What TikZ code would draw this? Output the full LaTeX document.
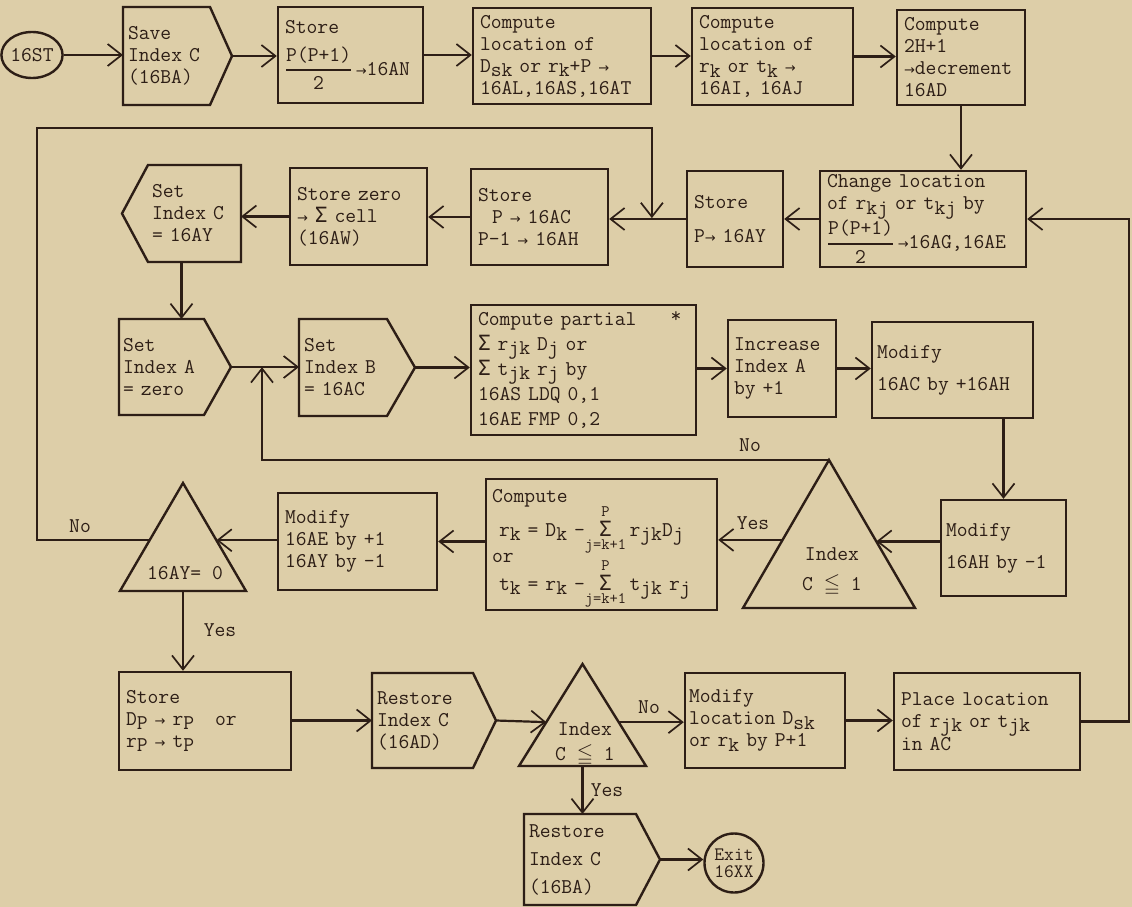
\documentclass[tikz,border=0pt]{standalone}
\usepackage{fontspec}
\usepackage{amssymb}
\usetikzlibrary{arrows.meta,calc,shapes.geometric}
\newfontfamily\symm{DejaVu Sans Mono}
\newfontfamily\symf{DejaVu Sans}
\definecolor{paper}{RGB}{221,206,168}
\definecolor{ink}{RGB}{45,30,22}
\newcommand\myfont{\fontsize{21}{22}\selectfont\ttfamily}
\newcommand\sbx[1]{\raisebox{-0.5ex}{#1}}
\newcommand\myar{{\symf\fontsize{13}{13}\selectfont →}}
\newcommand\mysig{{\symm Σ}}
\newcommand\myfrac{\(\displaystyle{\hbox{\ttfamily P(P+1)}\above1.8pt\hbox{\ttfamily 2}}\)}
\newcommand\mysum{\smash{\(\mathop{\hbox{\symm Σ}}\limits^{\hbox{\fontsize{16}{16}\selectfont\ttfamily P}}_{\hbox{\fontsize{16}{16}\selectfont\ttfamily j=k+1}}\)}}
\begin{document}
\begin{tikzpicture}[x=1pt,y=-1pt]
\tikzset{
 bx/.style={draw=ink, line width=2.4pt, inner xsep=7pt, inner ysep=0pt, align=left, font=\myfont, text=ink},
 ghost/.style={draw=none, inner xsep=5pt, inner ysep=0pt, outer sep=0pt, align=left, font=\myfont, text=ink},
 shp/.style={draw=ink, line width=2.4pt, line join=miter},
 con/.style={draw=ink, line width=2.2pt, -{Straight Barb[length=14pt,width=22pt,line width=1.7pt]}},
 lab/.style={font=\myfont, text=ink, inner sep=0pt},
 circ/.style={draw=ink, line width=2.4pt, inner sep=0pt, font=\myfont, text=ink, align=center},
}
\useasboundingbox (0,0) rectangle (1132,907);
\fill[paper] (0,0) rectangle (1132,907);

% ---- row 1
\node[circ, ellipse, minimum width=60pt, minimum height=46pt] (st) at (32,55) {16ST};
\node[ghost, minimum width=87pt, minimum height=98pt, text width=77pt] (save) at (166.5,56) {Save\\Index C\\(16BA)};
\coordinate (saveT) at ($(save.east)+(22,0)$);
\draw[shp] (save.north west) -- (save.north east) -- (saveT) -- (save.south east) -- (save.south west) -- cycle;
\node[bx, minimum width=145pt, minimum height=96pt, text width=131pt] (store1) at (350.5,55) {Store\\[12pt]\myfrac\,\myar16AN};
\node[bx, minimum width=178pt, minimum height=96pt, text width=164pt] (comp1) at (562,56) {Compute\\location of\\D\sbx{sk} or r\sbx{k}+P \myar\\16AL,16AS,16AT};
\node[bx, minimum width=161pt, minimum height=97pt, text width=147pt] (comp2) at (772.5,56.5) {Compute\\location of\\r\sbx{k} or t\sbx{k} \myar\\16AI, 16AJ};
\node[bx, minimum width=128pt, minimum height=95pt, text width=114pt] (comp3) at (961,57.5) {Compute\\2H+1\\\myar decrement\\16AD};

% ---- row 2
\node[bx, minimum width=206pt, minimum height=96pt, text width=192pt] (change) at (923,219) {Change location\\of r\sbx{kj} or t\sbx{kj} by\\\myfrac\,\myar16AG,16AE};
\node[bx, minimum width=96pt, minimum height=96pt, text width=82pt] (storeAY) at (735,219) {Store\\[12pt]P\myar\ 16AY\\[6pt]};
\node[bx, minimum width=137pt, minimum height=96pt, text width=123pt] (storeAC) at (539.5,217) {Store\\\ \ P \myar\ 16AC\\P-1 \myar\ 16AH};
\node[bx, minimum width=137pt, minimum height=97pt, text width=123pt] (storezero) at (358.5,216.5) {Store zero\\\myar\ \mysig\ cell\\(16AW)};
\node[ghost, minimum width=93pt, minimum height=97pt, text width=85pt, inner xsep=4pt] (setC) at (194.5,213.5) {Set\\Index C\\= 16AY};
\coordinate (setCT) at ($(setC.west)+(-26,0)$);
\draw[shp] (setC.north east) -- (setC.north west) -- (setCT) -- (setC.south west) -- (setC.south east) -- cycle;

% ---- row 3
\node[ghost, minimum width=85pt, minimum height=96pt, text width=77pt, inner xsep=4pt] (setA) at (161.5,367) {Set\\Index A\\= zero};
\coordinate (setAT) at ($(setA.east)+(27,0)$);
\draw[shp] (setA.north west) -- (setA.north east) -- (setAT) -- (setA.south east) -- (setA.south west) -- cycle;
\node[ghost, minimum width=88pt, minimum height=97pt, text width=78pt] (setB) at (343,367.5) {Set\\Index B\\= 16AC};
\coordinate (setBT) at ($(setB.east)+(28,0)$);
\draw[shp] (setB.north west) -- (setB.north east) -- (setBT) -- (setB.south east) -- (setB.south west) -- cycle;
\node[bx, minimum width=225pt, minimum height=130pt, text width=211pt, font=\fontsize{21}{25}\selectfont\ttfamily] (partial) at (583.5,370) {Compute partial\\\mysig\ r\sbx{jk} D\sbx{j} or\\\mysig\ t\sbx{jk} r\sbx{j} by\\16AS LDQ 0,1\\16AE FMP 0,2};
\node[bx, minimum width=108pt, minimum height=97pt, text width=96pt, inner xsep=6pt] (incA) at (782,368.5) {Increase\\Index A\\by +1};
\node[bx, minimum width=161pt, minimum height=96pt, text width=151pt, inner xsep=5pt] (modAC) at (952.5,370) {Modify\\[10pt]16AC by +16AH};

% ---- row 4
\node[bx, minimum width=125pt, minimum height=96pt, text width=115pt, inner xsep=5pt] (modAH) at (1003.5,548) {Modify\\[10pt]16AH by -1};
\node[ghost, minimum width=172pt, minimum height=148pt] (tri1) at (829,534) {};
\draw[shp] (tri1.south west) -- (tri1.north) -- (tri1.south east) -- cycle;
\node[lab, align=center] (tri1t) at (832,572) {Index\\[8pt]C $\leqq$ 1};
\node[bx, minimum width=231pt, minimum height=131pt, text width=219pt, inner xsep=6pt] (compR) at (601.5,544.5) {Compute\\[12pt]\ r\sbx{k} = D\sbx{k} -\mysum\,r\sbx{jk}D\sbx{j}\\[4pt]or\\[6pt]\ t\sbx{k} = r\sbx{k} -\mysum\,t\sbx{jk} r\sbx{j}};
\node[bx, minimum width=159pt, minimum height=97pt, text width=145pt] (modAE) at (357.5,541.5) {Modify\\16AE by +1\\16AY by -1};
\node[ghost, minimum width=126pt, minimum height=108pt] (triAY) at (183,537) {};
\draw[shp] (triAY.south west) -- (triAY.north) -- (triAY.south east) -- cycle;
\node[lab] (triAYt) at (185,573) {16AY= 0};

% ---- row 5
\node[bx, minimum width=172pt, minimum height=98pt, text width=158pt] (storeDP) at (205,721) {Store\\D\sbx{P} \myar\ r\sbx{P}\ \ \ or\\r\sbx{P} \myar\ t\sbx{P}};
\node[ghost, minimum width=101pt, minimum height=95pt, text width=91pt] (restoreAD) at (422.5,720.5) {Restore\\Index C\\(16AD)};
\coordinate (rADT) at ($(restoreAD.east)+(23,0)$);
\draw[shp] (restoreAD.north west) -- (restoreAD.north east) -- (rADT) -- (restoreAD.south east) -- (restoreAD.south west) -- cycle;
\node[ghost, minimum width=127pt, minimum height=102pt] (tri2) at (582.5,715) {};
\draw[shp] (tri2.south west) -- (tri2.north) -- (tri2.south east) -- cycle;
\node[lab, align=center] (tri2t) at (585,744) {Index\\[3pt]C $\leqq$ 1};
\node[bx, minimum width=160pt, minimum height=95pt, text width=152pt, inner xsep=4pt] (modloc) at (765,720.5) {Modify\\location D\sbx{sk}\\or r\sbx{k} by P+1};
\node[bx, minimum width=186pt, minimum height=97pt, text width=172pt] (place) at (987,721.5) {Place location\\of r\sbx{jk} or t\sbx{jk}\\in AC};
\node[ghost, minimum width=112pt, minimum height=91pt, text width=102pt] (restoreBA) at (580,859.5) {Restore\\[6pt]Index C\\[6pt](16BA)};
\coordinate (rBAT) at ($(restoreBA.east)+(24,0)$);
\draw[shp] (restoreBA.north west) -- (restoreBA.north east) -- (rBAT) -- (restoreBA.south east) -- (restoreBA.south west) -- cycle;
\node[circ, circle, minimum size=59pt, font=\fontsize{19}{17}\selectfont\ttfamily] (exit) at (734,863) {Exit\\16XX};

% ---- labels
\node[lab] (no1) at (80,526) {No};
\node[lab] (no2) at (750,445) {No};
\node[lab] (yes1) at (753,523) {Yes};
\node[lab] (yes2) at (220,630) {Yes};
\node[lab] (no3) at (649,707) {No};
\node[lab] (yes3) at (607,790) {Yes};
\node[lab] (star) at (676,317) {*};

% ---- helper coordinates
\coordinate (j1) at ($(storeAY.west)!0.443!(storeAC.east)$);
\coordinate (j2) at ($(setAT)!0.456!(setB.west)$);
\coordinate (lt) at (37,128);
\coordinate (rx) at (1129,0);
\coordinate (cA) at ($(setC.south west)!0.36!(setC.south east)$);
\coordinate (t1R) at ($(tri1.south east)!0.45!(tri1.north)$);
\coordinate (t1L) at ($(tri1.south west)!0.46!(tri1.north)$);
\coordinate (tAYR) at ($(triAY.south east)!0.47!(triAY.north)$);
\coordinate (tAYL) at ($(triAY.south west)!0.47!(triAY.north)$);
\coordinate (t2R) at ($(tri2.south east)!0.43!(tri2.north)$);
\coordinate (t2L) at ($(tri2.south west)!0.43!(tri2.north)$);

% ---- connectors
\draw[con] (st.east) -- (st.east -| save.west);
\draw[con] (saveT) -- (saveT -| store1.west);
\draw[con] (store1.east) -- (store1.east -| comp1.west);
\draw[con] (comp1.east) -- (comp1.east -| comp2.west);
\draw[con] (comp2.east) -- (comp2.east -| comp3.west);
\draw[con] (comp3.south) -- (comp3.south |- change.north);
\draw[con] (change.west) -- (change.west -| storeAY.east);
\draw[con] (storeAY.west) -- (storeAY.west -| storeAC.east);
\draw[con] (storeAC.west) -- (storeAC.west -| storezero.east);
\draw[con] (storezero.west) -- (storezero.west -| setC.east);
\draw[con] (cA) -- (cA |- setA.north);
\draw[con] (setAT) -- (setAT -| setB.west);
\draw[con] (setBT) -- (setBT -| partial.west);
\draw[con] (partial.east |- incA.west) -- (incA.west);
\draw[con] (incA.east) -- (incA.east -| modAC.west);
\draw[con] (modAC.south -| modAH.north) -- (modAH.north);
\draw[con] (modAH.west |- t1R) -- (t1R);
\draw[con] (t1L) -- (t1L -| compR.east);
\draw[con] (modAE.east -| compR.west) -- (modAE.east);
\draw[con] (modAE.west |- tAYR) -- (tAYR);
\draw[con] (tAYL) -| (lt) -| (j1);
\draw[con] (tri1.north) -| (j2);
\draw[con] (triAY.south) -- (triAY.south |- storeDP.north);
\draw[con] (storeDP.east |- restoreAD.west) -- (restoreAD.west);
\draw[con] (rADT) -- (t2L);
\draw[con] (t2R) -- (t2R -| modloc.west);
\draw[con] (modloc.east) -- (modloc.east -| place.west);
\draw[con] (place.east) -- (place.east -| rx) |- (change.east);
\draw[con] (tri2.south) -- (tri2.south |- restoreBA.north);
\draw[con] (rBAT) -- (rBAT -| exit.west);
\end{tikzpicture}
\end{document}
